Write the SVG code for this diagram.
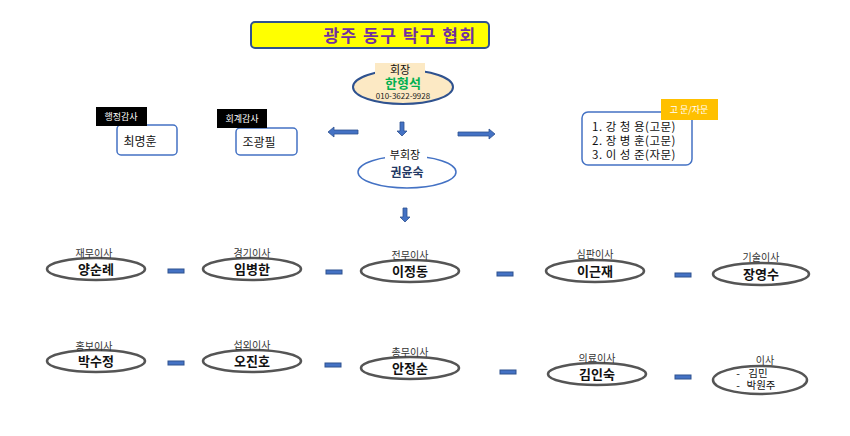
<svg xmlns="http://www.w3.org/2000/svg" width="850" height="436" viewBox="0 0 850 436">
<style>
text{font-family:"Noto Sans CJK KR","Noto Sans",sans-serif;text-anchor:middle}
.el{fill:#fff;stroke:#555;stroke-width:2.5}
.lb{font-size:10px;fill:#333}
.nm{font-size:13px;font-weight:bold;fill:#111}
.dash{fill:#4472C4;stroke:#2F528F;stroke-width:1}
.bx{fill:#fff;stroke:#4472C4;stroke-width:1.5}
</style>
<rect width="850" height="436" fill="#fff"/>
<g id="title"><rect x="251" y="22" width="238" height="26" rx="4" fill="#ffff00" stroke="#2F528F" stroke-width="2"/><text x="400" y="42" font-size="17" font-weight="bold" fill="#7030A0" letter-spacing="1.5">광주 동구 탁구 협회</text></g>
<g id="president"><ellipse cx="403" cy="87" rx="50" ry="17" fill="#FCE9C4" stroke="#2F528F" stroke-width="2"/><rect x="375" y="63" width="50" height="15" fill="#FCE9C4"/><text x="400" y="74" font-size="11" fill="#111">회장</text><text x="403" y="88" font-size="13" font-weight="bold" fill="#00B050">한형석</text><text x="403" y="99" font-size="8" fill="#222">010-3622-9928</text></g>
<g id="vice"><ellipse cx="407" cy="172" rx="49" ry="16" class="bx" stroke-width="2"/><rect x="385" y="148" width="42" height="14" fill="#fff"/><text x="405" y="159" font-size="11" fill="#111">부회장</text><text x="407" y="177" font-size="12" font-weight="bold" fill="#1F3864">권윤숙</text></g>
<g id="audit1"><rect x="117" y="125" width="60" height="30" rx="4" class="bx"/><rect x="96" y="107" width="51" height="19" fill="#000"/><text x="121" y="120" font-size="9" fill="#fff">행정감사</text><text x="140" y="146" font-size="12" fill="#111">최명훈</text></g>
<g id="audit2"><rect x="236" y="128" width="61" height="27" rx="4" class="bx"/><rect x="217" y="109" width="50" height="19" fill="#000"/><text x="242" y="122" font-size="9" fill="#fff">회계감사</text><text x="259" y="147" font-size="12" fill="#111">조광필</text></g>
<g id="advisors"><rect x="582" y="112" width="110" height="53" rx="6" class="bx"/><rect x="661" y="99" width="57" height="21" fill="#FFC000"/><text x="689" y="113" font-size="9" fill="#fff">고 문/자문</text><text x="592" y="131" font-size="11.5" fill="#111" style="text-anchor:start" letter-spacing="0.5">1. 강 청 용(고문)</text><text x="592" y="145" font-size="11.5" fill="#111" style="text-anchor:start" letter-spacing="0.5">2. 장 병 훈(고문)</text><text x="592" y="159" font-size="11.5" fill="#111" style="text-anchor:start" letter-spacing="0.5">3. 이 성 준(자문)</text></g>
<g id="connectors" fill="#4472C4" stroke="#2F528F" stroke-width="0.8">
<path d="M400,122h4v9h3l-5,5l-5,-5h3z"/>
<path d="M403,208h4v9h3l-5,5l-5,-5h3z"/>
<path d="M358,130v4h-24v3l-6,-5l6,-5v3z"/>
<path d="M458,132v4h31v3l6,-5l-6,-5v3z"/>
<rect x="168" y="269" width="16" height="4" class="dash"/><rect x="326" y="270" width="16" height="4" class="dash"/><rect x="497" y="272" width="16" height="4" class="dash"/><rect x="675" y="273" width="16" height="4" class="dash"/>
<rect x="168" y="361" width="16" height="4" class="dash"/><rect x="325" y="363" width="16" height="4" class="dash"/><rect x="500" y="370" width="16" height="4" class="dash"/><rect x="675" y="375" width="16" height="4" class="dash"/>
</g>
<g id="n1"><ellipse cx="96" cy="269" rx="49" ry="11" class="el"/><text x="94" y="257" class="lb">재무이사</text><text x="96" y="274" class="nm">양순례</text></g>
<g id="n2"><ellipse cx="252" cy="269" rx="49" ry="11" class="el"/><text x="252" y="257" class="lb">경기이사</text><text x="252" y="274" class="nm">임병한</text></g>
<g id="n3"><ellipse cx="410" cy="271" rx="49" ry="11" class="el"/><text x="410" y="259" class="lb">전무이사</text><text x="410" y="276" class="nm">이정동</text></g>
<g id="n4"><ellipse cx="595" cy="271" rx="49" ry="11" class="el"/><text x="595" y="258" class="lb">심판이사</text><text x="595" y="276" class="nm">이근재</text></g>
<g id="n5"><ellipse cx="761" cy="274" rx="48" ry="11" class="el"/><text x="761" y="261" class="lb">기술이사</text><text x="761" y="279" class="nm">장영수</text></g>
<g id="n6"><ellipse cx="96" cy="361" rx="49" ry="11" class="el"/><text x="94" y="350" class="lb">홍보이사</text><text x="96" y="366" class="nm">박수정</text></g>
<g id="n7"><ellipse cx="252" cy="361" rx="49" ry="11" class="el"/><text x="252" y="349" class="lb">섭외이사</text><text x="252" y="366" class="nm">오진호</text></g>
<g id="n8"><ellipse cx="410" cy="368" rx="49" ry="11" class="el"/><text x="410" y="356" class="lb">총무이사</text><text x="410" y="373" class="nm">안정순</text></g>
<g id="n9"><ellipse cx="597" cy="374" rx="49" ry="11" class="el"/><text x="597" y="362" class="lb">의료이사</text><text x="597" y="379" class="nm">김인숙</text></g>
<g id="n10"><ellipse cx="760" cy="380" rx="47" ry="14" class="el"/><text x="765" y="364" class="lb">이사</text><text x="738" y="377" font-size="10.5" fill="#111">-</text><text x="758" y="377" font-size="10.5" fill="#111">김민</text><text x="738" y="389" font-size="10.5" fill="#111">-</text><text x="761" y="389" font-size="10.5" fill="#111">박원주</text></g>
</svg>
